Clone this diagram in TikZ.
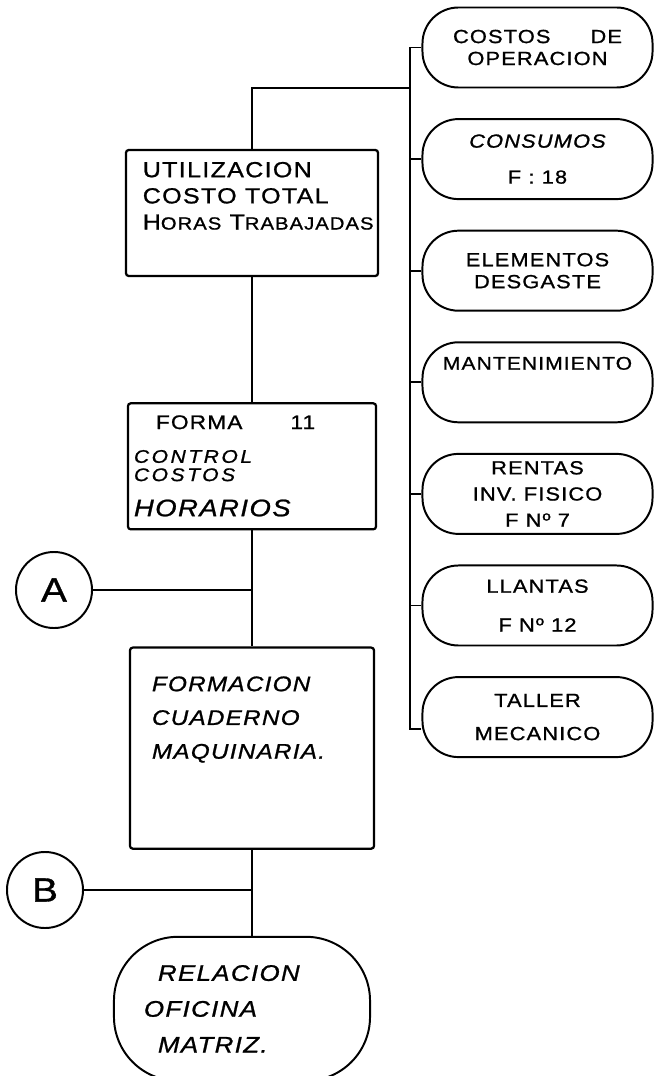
\documentclass[tikz,border=0pt]{standalone}
\usepackage{fontspec}
\setmainfont{Liberation Sans}[FakeStretch=1.15,LetterSpace=6,FakeBold=1]
\usetikzlibrary{positioning}
\tikzset{
  card/.style={
    rectangle, draw, line width=1.6pt,
    rounded corners=2pt, inner sep=0pt
  },
  pill/.style={
    rectangle, rounded corners=0.9cm,
    draw, line width=1.4pt, align=center,
    minimum width=5.75cm, minimum height=2cm, inner sep=2pt,
    font=\fontsize{13.5}{15.6}\selectfont
  },
  tag/.style={
    circle, draw, line width=1.4pt, minimum size=1.9cm,
    inner sep=0pt, font=\fontsize{24}{24}\selectfont
  },
  link/.style={line width=1.3pt}
}
% text block of a card, fixed size, set from its top
\newcommand{\cardtext}[3]{\parbox[c][#2][t]{#1}{\raggedright #3}}

\begin{document}
\begin{tikzpicture}[x=0.025cm, y=-0.025cm]
  \useasboundingbox (0,0) rectangle (659,1076);

  % main column
  \node[card, inner xsep=0.42cm, inner ysep=0.3cm,
    font=\fontsize{15.5}{18.6}\selectfont] (util) at (252,213)
    {\cardtext{5.46cm}{2.55cm}{UTILIZACION\\COSTO TOTAL\\
      \mbox{H{\fontsize{12.5}{12}\selectfont ORAS} T{\fontsize{12.5}{12}\selectfont RABAJADAS}}}};
  \node[card, below=3.125cm of util, inner xsep=0.15cm, inner ysep=0.3cm,
    font=\fontsize{13}{13}\selectfont] (forma)
    {\cardtext{5.9cm}{2.55cm}{\hspace*{0.55cm}{\fontsize{14}{14}\selectfont FORMA\hspace{1.2cm}11}\\[11pt]
      {\itshape\addfontfeatures{LetterSpace=14}CONTROL\\COSTOS}\\[12pt]
      {\itshape\fontsize{17}{17}\selectfont HORARIOS}}};
  \node[card, below=2.9cm of forma, inner xsep=0.55cm, inner ysep=0.72cm,
    font=\itshape\fontsize{15}{24}\selectfont] (formacion)
    {\cardtext{5.0cm}{3.585cm}{FORMACION\\CUADERNO\\MAQUINARIA.}};
  \node[pill, below=2.15cm of formacion, xshift=-0.25cm,
    rounded corners=1.6cm, align=left, text width=5.2cm,
    minimum width=6.4cm, minimum height=3.6cm,
    font=\itshape\fontsize{16}{25.5}\selectfont] (relacion)
    {\hspace*{0.5cm}RELACION\\\hspace*{0.15cm}OFICINA\\\hspace*{0.5cm}MATRIZ.};

  % connectors A and B
  \node[tag] (tagA) at (54,590) {A};
  \node[tag] (tagB) at (45,890) {B};

  % right column
  \node[pill] (costos) at (537.5,47.5) {COSTOS\hspace{1cm}DE\\OPERACION};
  \node[pill, below=0.74cm of costos] (consumos)
    {\itshape CONSUMOS\\[10pt]F : 18};
  \node[pill, below=0.74cm of consumos] (elementos) {ELEMENTOS\\DESGASTE};
  \node[pill, below=0.74cm of elementos, text depth=0.95cm,
    font=\fontsize{13}{15}\selectfont] (manten) {MANTENIMIENTO};
  \node[pill, below=0.74cm of manten] (rentas)
    {RENTAS\\[3pt]INV. FISICO\\[3pt]F Nº 7};
  \node[pill, below=0.74cm of rentas] (llantas)
    {LLANTAS\\[12pt]F Nº 12};
  \node[pill, below=0.74cm of llantas] (taller)
    {TALLER\\[8pt]MECANICO};

  \coordinate (join) at (410,88);
  \draw[link] (util.north) |- (join);
  \draw[link] (costos.west) -| (join) |- (taller.186);
  \foreach \p in {consumos,elementos,manten,rentas,llantas}
    \draw[link] (\p.west) -- (\p.west -| join);

  \draw[link] (util.south) -- (forma.north);
  \draw[link] (forma.south) -- (formacion.north);
  \draw[link] (formacion.south) -- (formacion.south |- relacion.north);
  \draw[link] (tagA.east) -- (tagA.east -| forma.south);
  \draw[link] (tagB.east) -- (tagB.east -| formacion.south);
\end{tikzpicture}
\end{document}
